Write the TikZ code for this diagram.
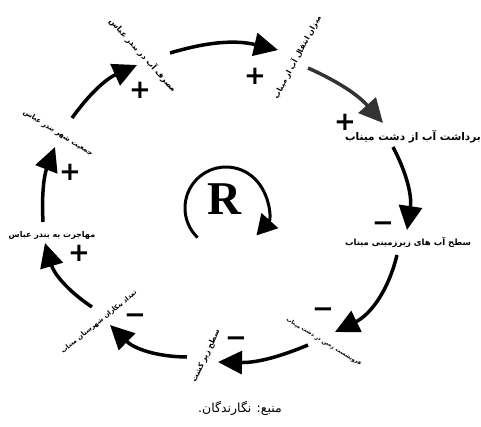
\documentclass[tikz,border=0pt]{standalone}
\usepackage{fontspec}
\newfontfamily\arabicfont[Script=Arabic]{DejaVu Sans}
\newfontfamily\rfont{Liberation Serif}
\TeXXeTstate=1
\usetikzlibrary{arrows.meta, calc}

\begin{document}
\begin{tikzpicture}[x=1pt, y=-1pt, every path/.style={line width=3.5pt},
    var/.style={font=\arabicfont\bfseries\fontsize{#1}{#1}\selectfont, inner sep=0pt},
    link/.style={-{Triangle[length=24pt, width=23pt]}},
    sign/.style={font=\arabicfont\bfseries\fontsize{26}{26}\selectfont, inner sep=0pt}]
  \useasboundingbox (0,0) rectangle (481,426);
  % variables of the loop
  \node[var=8, rotate=-48] (masraf) at (143,55) {\beginR مصرف آب در بندر عباس\endR};
  \node[var=7.5, rotate=62] (mizan) at (297,57) {\beginR میزان انتقال آب از میناب\endR};
  \node[var=10.5] (bardasht) at (413,137) {\beginR برداشت آب از دشت میناب\endR};
  \node[var=8.5] (sath) at (408,242) {\beginR سطح آب های زیرزمینی میناب\endR};
  \node[var=5.5, rotate=-31] (foronshast) at (324,342) {\beginR فرونشست زمین در دشت میناب\endR};
  \node[var=7.5, rotate=65] (sathzir) at (206,356) {\beginR سطح زیر کشت\endR};
  \node[var=6.5, rotate=39] (bikaran) at (99,322) {\beginR تعداد بیکاران شهرستان میناب\endR};
  \node[var=8] (mohajerat) at (52,235) {\beginR مهاجرت به بندر عباس\endR};
  \node[var=7, rotate=-32] (jamiat) at (58,133) {\beginR جمعیت شهر بندر عباس\endR};
  % links
  \draw[link] ($(jamiat)+(14,-15)$) to[bend left=15] ($(masraf)+(-6,10)$);
  \draw[link] ($(masraf)+(27,-2)$) to[bend left=15] ($(mizan)+(-19,-7)$);
  \draw[link, black!80] ($(mizan)+(11,11)$) to[bend left=12] ($(bardasht)+(-30,-14)$);
  \draw[link] ($(bardasht)+(-20,10)$) to[bend left=18] ($(sath)+(-1,-12)$);
  \draw[link] ($(sath)+(-11,13)$) to[bend left=25] ($(foronshast)+(11,-10)$);
  \draw[link] ($(foronshast)+(-16,3)$) to[bend left=12] ($(sathzir)+(12,6)$);
  \draw[link] ($(sathzir)+(-19,1)$) to[bend left=22] ($(bikaran)+(11,3)$);
  \draw[link] ($(bikaran)+(-7,-15)$) to[bend left=20] ($(mohajerat)+(-7,8)$);
  \draw[link] ($(mohajerat)+(-9,-13)$) to[bend left=12] ($(jamiat)+(-3,14)$);
  % polarities
  \node[sign] (s1) at (140,90) {+};
  \node[sign] (s2) at (255,76) {+};
  \node[sign] (s3) at (345,122) {+};
  \node[sign] (s4) at (383,227) {−};
  \node[sign] (s5) at (323,313) {−};
  \node[sign] (s6) at (236,342) {−};
  \node[sign] (s7) at (135,319) {−};
  \node[sign] (s8) at (79,253) {+};
  \node[sign] (s9) at (70,172) {+};
  % loop marker
  \node[font=\rfont\bfseries\fontsize{47}{47}\selectfont, inner sep=0pt] (rsym) at (224,199) {R};
  \coordinate (rloop) at (226,208);
  \draw[-{Triangle[length=20pt, width=22pt]}, line width=3pt]
    ([shift={(226:41pt)}]rloop) arc[start angle=226, end angle=-42, radius=41pt];
  % source
  \node[font=\arabicfont\fontsize{12.5}{14}\selectfont, inner sep=0pt] (source) at (240,408) {\beginR منبع: نگارندگان.\endR};
\end{tikzpicture}
\end{document}
